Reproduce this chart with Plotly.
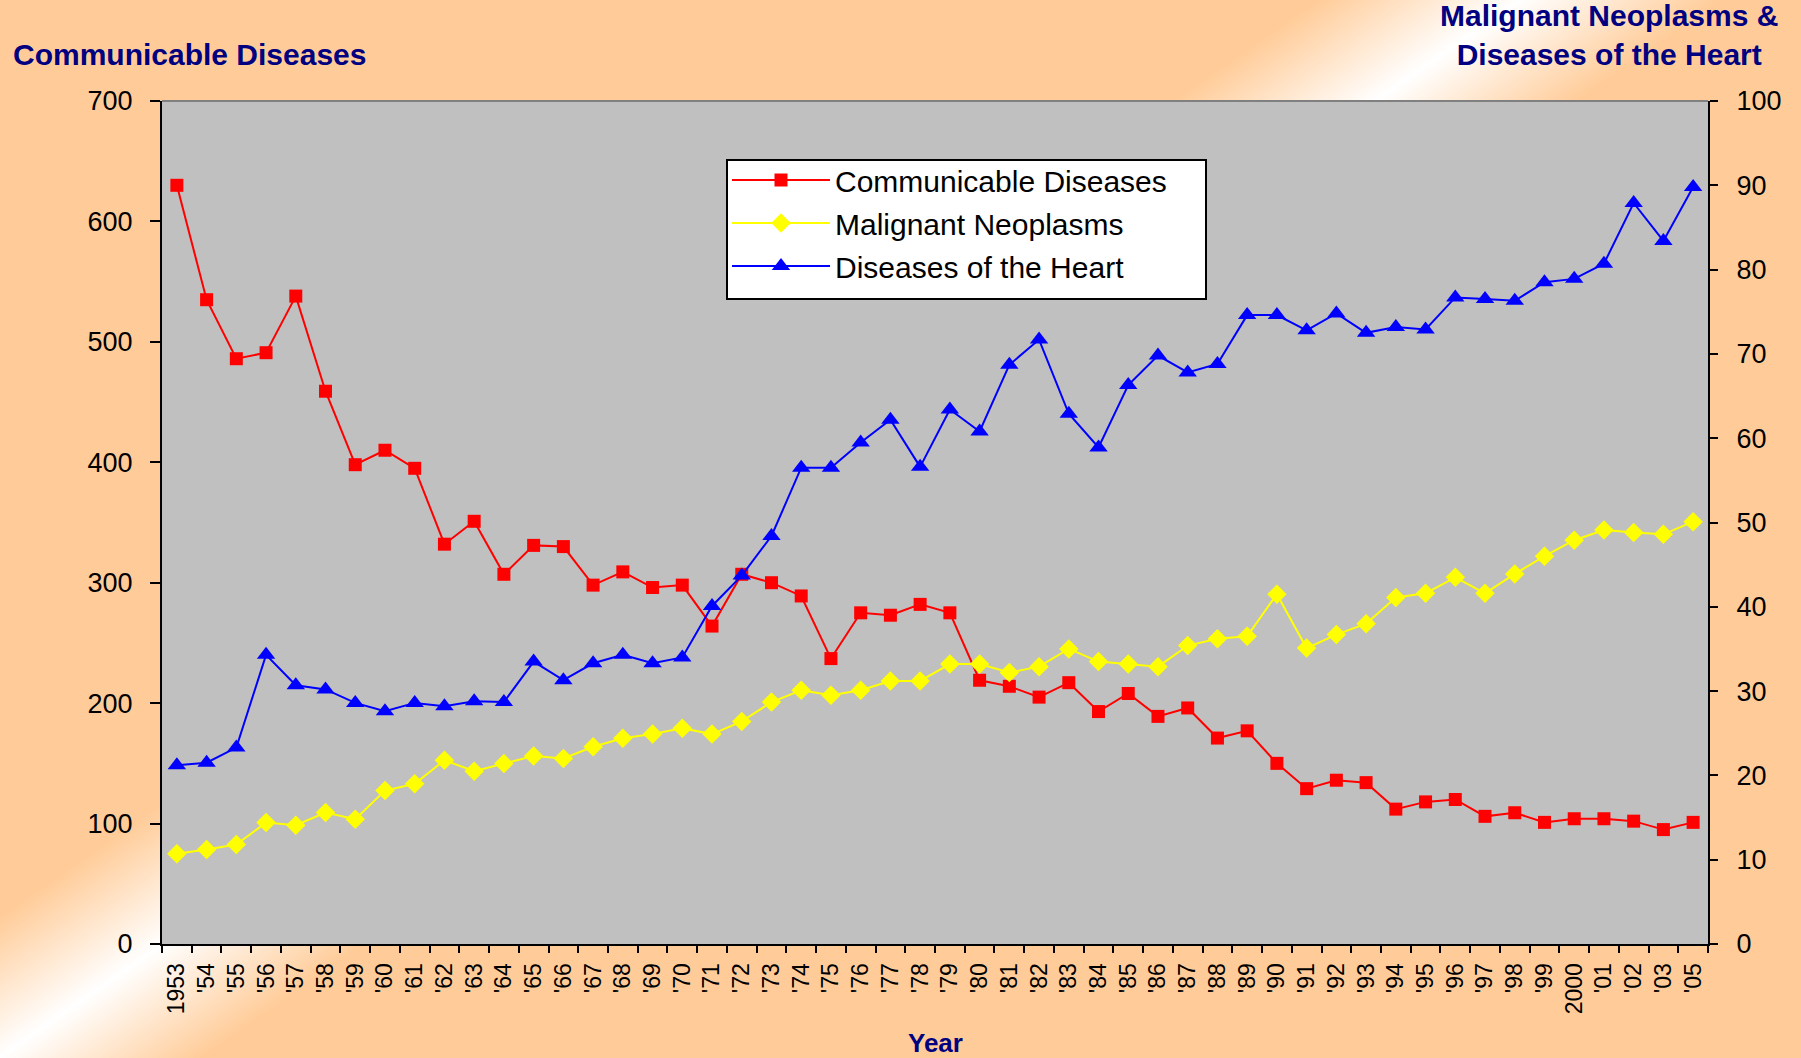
import base64
import plotly.graph_objects as go

years = ["1953", "'54", "'55", "'56", "'57", "'58", "'59", "'60", "'61", "'62",
         "'63", "'64", "'65", "'66", "'67", "'68", "'69", "'70", "'71", "'72",
         "'73", "'74", "'75", "'76", "'77", "'78", "'79", "'80", "'81", "'82",
         "'83", "'84", "'85", "'86", "'87", "'88", "'89", "'90", "'91", "'92",
         "'93", "'94", "'95", "'96", "'97", "'98", "'99", "2000", "'01", "'02",
         "'03", "'05"]

communicable = [630, 535, 486, 491, 538, 459, 398, 410, 395, 332,
                351, 307, 331, 330, 298, 309, 296, 298, 264, 307,
                300, 289, 237, 275, 273, 282, 275, 219, 214, 205,
                217, 193, 208, 189, 196, 171, 177, 150, 129, 136,
                134, 112, 118, 120, 106, 109, 101, 104, 104, 102,
                95, 101]

neoplasms = [10.7, 11.2, 11.8, 14.4, 14.1, 15.6, 14.8, 18.2, 19.0, 21.8,
             20.5, 21.4, 22.3, 22.0, 23.4, 24.4, 24.9, 25.6, 24.9, 26.4,
             28.7, 30.1, 29.5, 30.1, 31.2, 31.2, 33.2, 33.2, 32.2, 32.9,
             35.0, 33.5, 33.2, 32.9, 35.4, 36.2, 36.5, 41.5, 35.1, 36.7,
             38.0, 41.1, 41.6, 43.5, 41.6, 43.9, 46.0, 47.9, 49.1, 48.8,
             48.6, 50.1]

heart = [21.2, 21.5, 23.3, 34.3, 30.7, 30.2, 28.6, 27.6, 28.6, 28.2,
         28.8, 28.7, 33.5, 31.3, 33.3, 34.3, 33.3, 34.0, 40.1, 43.7,
         48.4, 56.5, 56.5, 59.5, 62.2, 56.6, 63.4, 60.8, 68.7, 71.7,
         62.9, 58.9, 66.3, 69.8, 67.8, 68.8, 74.6, 74.6, 72.8, 74.8,
         72.5, 73.2, 72.9, 76.7, 76.5, 76.3, 78.5, 78.9, 80.7, 87.9,
         83.4, 89.8]

W, H = 1801, 1058
ML, MR, MT, MB = 162, 93, 101, 114
PW, PH = W - ML - MR, H - MT - MB

FONT = "Liberation Sans, Arial, sans-serif"
NAVY = "#000080"


def px_x(v):
    return (v - ML) / PW


def px_y(v):
    return 1 - (v - MT) / PH


# background gradient (peach with a diagonal white streak)
nx, ny, c, hw = 0.571, 0.821, 868, 115
x1, y1 = nx * (c - hw), ny * (c - hw)
x2, y2 = nx * (c + hw), ny * (c + hw)
svg = (
    f'<svg xmlns="http://www.w3.org/2000/svg" width="{W}" height="{H}">'
    '<defs><linearGradient id="g" gradientUnits="userSpaceOnUse" '
    f'x1="{x1:.1f}" y1="{y1:.1f}" x2="{x2:.1f}" y2="{y2:.1f}">'
    '<stop offset="0" stop-color="#FFCC99"/>'
    '<stop offset="0.5" stop-color="#FFFFFF"/>'
    '<stop offset="1" stop-color="#FFCC99"/>'
    '</linearGradient></defs>'
    f'<rect width="{W}" height="{H}" fill="url(#g)"/></svg>'
)
bg_src = "data:image/svg+xml;base64," + base64.b64encode(svg.encode()).decode()

fig = go.Figure()
fig.add_trace(go.Scatter(
    x=years, y=communicable, name="Communicable Diseases", mode="lines+markers",
    legendgroup="a",
    line=dict(color="#FF0000", width=2),
    marker=dict(symbol="square", size=13, color="#FF0000"),
    yaxis="y"))
fig.add_trace(go.Scatter(
    x=years, y=neoplasms, name="Malignant Neoplasms", mode="lines+markers",
    legendgroup="b",
    line=dict(color="#FFFF00", width=2),
    marker=dict(symbol="diamond", size=15, color="#FFFF00"),
    yaxis="y2"))
fig.add_trace(go.Scatter(
    x=years, y=heart, name="Diseases of the Heart", mode="lines+markers",
    legendgroup="c",
    line=dict(color="#0000FF", width=2),
    marker=dict(symbol="triangle-up", size=16, color="#0000FF"),
    yaxis="y2"))

n = len(years)
ytickfont = dict(family=FONT, size=27, color="black")
xtickfont = dict(family=FONT, size=23, color="black")

fig.update_layout(
    width=W, height=H,
    margin=dict(l=ML, r=MR, t=MT, b=MB, pad=0),
    paper_bgcolor="#FFCC99",
    plot_bgcolor="rgba(0,0,0,0)",
    showlegend=True,
    legend=dict(
        x=px_x(727), y=px_y(154), xanchor="left", yanchor="top",
        bgcolor="rgba(0,0,0,0)", borderwidth=0,
        font=dict(family=FONT, size=30, color="black"),
        traceorder="grouped", tracegroupgap=1, itemwidth=98,
    ),
    xaxis=dict(
        type="category", categoryarray=years, range=[-0.5, n - 0.5],
        tickmode="array", tickvals=years, ticktext=years,
        tickson="boundaries", ticks="outside", ticklen=7, tickwidth=2, tickcolor="black",
        showline=True, linecolor="black", linewidth=2, showgrid=False, zeroline=False,
        tickangle=-90, tickfont=xtickfont, ticklabelstandoff=8, anchor="y",
    ),
    xaxis2=dict(
        overlaying="x", anchor="y", type="linear", range=[-0.5, n - 0.5],
        tickvals=[i - 0.5 for i in range(n + 1)], ticks="inside", ticklen=6,
        tickwidth=2, tickcolor="black", showticklabels=False, showgrid=False,
        zeroline=False, showline=False,
    ),
    yaxis=dict(
        range=[0, 700], dtick=100, ticks="outside", ticklen=10, tickwidth=2,
        tickcolor="black", showline=True, linecolor="black", linewidth=2,
        showgrid=False, zeroline=False, tickfont=ytickfont, ticklabelstandoff=12,
        anchor="x",
    ),
    yaxis2=dict(
        range=[0, 100], dtick=10, ticks="outside", ticklen=8, tickwidth=2,
        tickcolor="black", showline=True, linecolor="black", linewidth=2,
        showgrid=False, zeroline=False, tickfont=ytickfont, ticklabelstandoff=13,
        overlaying="y", side="right", anchor="x",
    ),
    yaxis3=dict(
        range=[0, 700], dtick=100, ticks="inside", ticklen=8, tickwidth=2,
        tickcolor="black", showticklabels=False, showgrid=False, zeroline=False,
        showline=False, overlaying="y", side="left", anchor="x",
    ),
    yaxis4=dict(
        range=[0, 100], dtick=10, ticks="inside", ticklen=10, tickwidth=2,
        tickcolor="black", showticklabels=False, showgrid=False, zeroline=False,
        showline=False, overlaying="y", side="right", anchor="x",
    ),
    images=[dict(
        source=bg_src, xref="paper", yref="paper",
        x=-ML / PW, y=1 + MT / PH, sizex=W / PW, sizey=H / PH,
        xanchor="left", yanchor="top", sizing="stretch", layer="below",
    )],
    shapes=[
        dict(type="rect", xref="paper", yref="paper", x0=0, x1=1, y0=0, y1=1,
             fillcolor="#C0C0C0", line=dict(width=0), layer="below"),
        dict(type="line", xref="paper", yref="paper", x0=0, x1=1, y0=1, y1=1,
             line=dict(color="#808080", width=2)),
        # legend frame
        dict(type="rect", xref="paper", yref="paper",
             x0=px_x(727), x1=px_x(1206), y0=px_y(299), y1=px_y(160),
             fillcolor="white", line=dict(color="black", width=2), layer="above"),
    ],
    annotations=[
        dict(text="<b>Communicable Diseases</b>", xref="paper", yref="paper",
             x=px_x(11), y=px_y(54), xanchor="left", yanchor="middle",
             showarrow=False, font=dict(family=FONT, size=30, color=NAVY)),
        dict(text="<b>Malignant Neoplasms &amp;<br>Diseases of the Heart</b>",
             xref="paper", yref="paper", align="center",
             x=px_x(1609), y=px_y(35), xanchor="center", yanchor="middle",
             showarrow=False, font=dict(family=FONT, size=30, color=NAVY)),
        dict(text="<b>Year</b>", xref="paper", yref="paper",
             x=0.5, y=px_y(1043), xanchor="center", yanchor="middle",
             showarrow=False, font=dict(family=FONT, size=26, color=NAVY)),
    ],
)

fig.write_html("out.html", config={"displayModeBar": False},
               post_script="document.body.style.margin='0px';")
